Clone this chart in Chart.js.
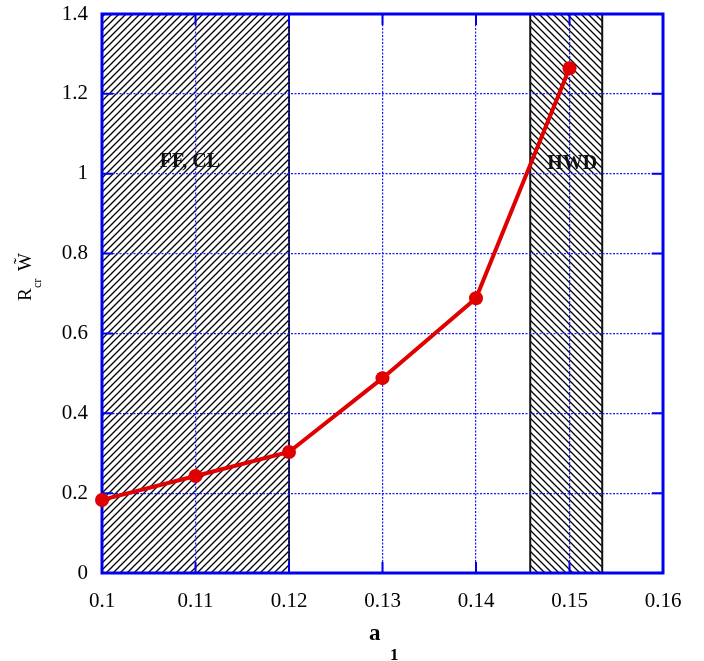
<!DOCTYPE html>
<html>
<head>
<meta charset="utf-8">
<script src="https://cdn.jsdelivr.net/npm/chart.js@4"></script>
<style>
    html, body { margin: 0; padding: 0; background: #fff; }
    #wrap { position: relative; width: 704px; height: 661px; }
</style>
</head>
<body>
<div id="wrap"><canvas id="chart" width="704" height="661"></canvas></div>
<script>
'use strict';

const A1_VALUES = [0.10, 0.11, 0.12, 0.13, 0.14, 0.15];
const RCR_VALUES = [0.183, 0.243, 0.303, 0.488, 0.688, 1.264];

const X_TICK_LABELS = ['0.1', '0.11', '0.12', '0.13', '0.14', '0.15', '0.16'];
const Y_TICK_LABELS = ['0', '0.2', '0.4', '0.6', '0.8', '1', '1.2', '1.4'];

// shaded regimes
const REGION_FROM = [0.10, 0.1458];
const REGION_TO = [0.12, 0.1535];
const REGION_NAMES = ['FF, CL', 'HWD'];
const REGION_LABEL_X = [0.1094, 0.1503];
const REGION_LABEL_Y = [1.03, 1.026];
const REGION_HATCH = ['/', '\\'];

const BLUE = '#0000ee';
const GRID_BLUE = '#1a1aff';
const RED = '#e00000';
const SERIF = '"Liberation Serif", "DejaVu Serif", serif';

// ── Hatch pattern ────────────────────────────────────────────────────────────

function makeHatch(ctx, dir) {
    const size = 7;
    const c = document.createElement('canvas');
    c.width = size;
    c.height = size;
    const p = c.getContext('2d');
    p.strokeStyle = '#000';
    p.lineWidth = 1.3;
    p.beginPath();
    if (dir === '/') {
        p.moveTo(0, size); p.lineTo(size, 0);
        p.moveTo(-1, 1); p.lineTo(1, -1);
        p.moveTo(size - 1, size + 1); p.lineTo(size + 1, size - 1);
    } else {
        p.moveTo(0, 0); p.lineTo(size, size);
        p.moveTo(-1, size - 1); p.lineTo(1, size + 1);
        p.moveTo(size - 1, -1); p.lineTo(size + 1, 1);
    }
    p.stroke();
    return ctx.createPattern(c, 'repeat');
}

// ── Plugins ──────────────────────────────────────────────────────────────────

const regionsPlugin = {
    id: 'regions',
    beforeDraw(chart) {
        const { ctx, chartArea: a, scales: { x } } = chart;
        ctx.save();
        REGION_FROM.forEach((from, i) => {
            const x0 = x.getPixelForValue(from);
            const x1 = x.getPixelForValue(REGION_TO[i]);
            ctx.fillStyle = makeHatch(ctx, REGION_HATCH[i]);
            ctx.fillRect(x0, a.top, x1 - x0, a.bottom - a.top);
            ctx.strokeStyle = '#111';
            ctx.lineWidth = 2;
            ctx.beginPath();
            ctx.moveTo(x0, a.top); ctx.lineTo(x0, a.bottom);
            ctx.moveTo(x1, a.top); ctx.lineTo(x1, a.bottom);
            ctx.stroke();
        });
        ctx.restore();
    },
    beforeDatasetsDraw(chart) {
        const { ctx, chartArea: a, scales: { x, y } } = chart;
        ctx.save();
        // frame
        ctx.strokeStyle = BLUE;
        ctx.lineWidth = 3;
        ctx.strokeRect(a.left, a.top, a.right - a.left, a.bottom - a.top);
        // inward tick marks
        ctx.lineWidth = 2;
        ctx.beginPath();
        x.ticks.forEach(t => {
            const px = x.getPixelForValue(t.value);
            ctx.moveTo(px, a.bottom); ctx.lineTo(px, a.bottom - 11);
            ctx.moveTo(px, a.top); ctx.lineTo(px, a.top + 11);
        });
        y.ticks.forEach(t => {
            const py = y.getPixelForValue(t.value);
            ctx.moveTo(a.left, py); ctx.lineTo(a.left + 11, py);
            ctx.moveTo(a.right, py); ctx.lineTo(a.right - 11, py);
        });
        ctx.stroke();
        // region labels
        ctx.fillStyle = '#111';
        ctx.font = 'bold 20px ' + SERIF;
        ctx.textAlign = 'center';
        ctx.textBaseline = 'middle';
        REGION_NAMES.forEach((name, i) => {
            const px = x.getPixelForValue(REGION_LABEL_X[i]);
            const py = y.getPixelForValue(REGION_LABEL_Y[i]);
            ctx.fillText(name, px, py);
        });
        ctx.restore();
    },
    afterDraw(chart) {
        const { ctx } = chart;
        ctx.save();
        ctx.fillStyle = '#000';
        // x title: a with subscript 1
        ctx.font = 'bold 23px ' + SERIF;
        ctx.textBaseline = 'alphabetic';
        ctx.textAlign = 'left';
        ctx.fillText('a', 369, 640);
        ctx.font = 'bold 17px ' + SERIF;
        ctx.fillText('1', 390, 660);
        // y title, rotated: R_cr W
        ctx.translate(31, 301);
        ctx.rotate(-Math.PI / 2);
        ctx.font = '19px ' + SERIF;
        ctx.fillText('R', 0, 0);
        ctx.font = '12px ' + SERIF;
        ctx.fillText('cr', 13, 10);
        ctx.font = '19px ' + SERIF;
        ctx.fillText('W\u0303', 30, 0);
        ctx.restore();
    },
};

// ── Chart ────────────────────────────────────────────────────────────────────

const ctx = document.getElementById('chart').getContext('2d');
new Chart(ctx, {
    type: 'scatter',
    data: {
        datasets: [{
            data: A1_VALUES.map((a, i) => ({ x: a, y: RCR_VALUES[i] })),
            showLine: true,
            borderColor: RED,
            backgroundColor: RED,
            borderWidth: 4,
            pointRadius: 7,
            pointHoverRadius: 7,
            pointBorderWidth: 0,
            tension: 0,
            clip: false,
        }],
    },
    plugins: [regionsPlugin],
    options: {
        responsive: false,
        animation: false,
        layout: { padding: { left: 0, right: 41, top: 14, bottom: 0 } },
        plugins: { legend: { display: false }, tooltip: { enabled: false } },
        scales: {
            x: {
                type: 'linear',
                min: 0.1,
                max: 0.16,
                afterBuildTicks(scale) {
                    scale.ticks = X_TICK_LABELS.map(v => ({ value: parseFloat(v) }));
                },
                afterFit(scale) {
                    scale.height = 88;
                    scale.paddingLeft = 0;
                    scale.paddingRight = 0;
                },
                ticks: {
                    color: '#000',
                    font: { family: SERIF, size: 21 },
                    padding: 16,
                    maxRotation: 0,
                    callback: (v, i) => X_TICK_LABELS[i],
                },
                grid: {
                    color: GRID_BLUE,
                    lineWidth: 1.2,
                    drawTicks: false,
                },
                border: { display: false, dash: [2, 1.5] },
            },
            y: {
                min: 0,
                max: 1.4,
                afterBuildTicks(scale) {
                    scale.ticks = Y_TICK_LABELS.map(v => ({ value: parseFloat(v) }));
                },
                afterFit(scale) {
                    scale.width = 102;
                    scale.paddingTop = 0;
                    scale.paddingBottom = 0;
                },
                ticks: {
                    color: '#000',
                    font: { family: SERIF, size: 21 },
                    padding: 14,
                    callback: (v, i) => Y_TICK_LABELS[i],
                },
                grid: {
                    color: GRID_BLUE,
                    lineWidth: 1.2,
                    drawTicks: false,
                },
                border: { display: false, dash: [2, 1.5] },
            },
        },
    },
});
</script>
</body>
</html>
